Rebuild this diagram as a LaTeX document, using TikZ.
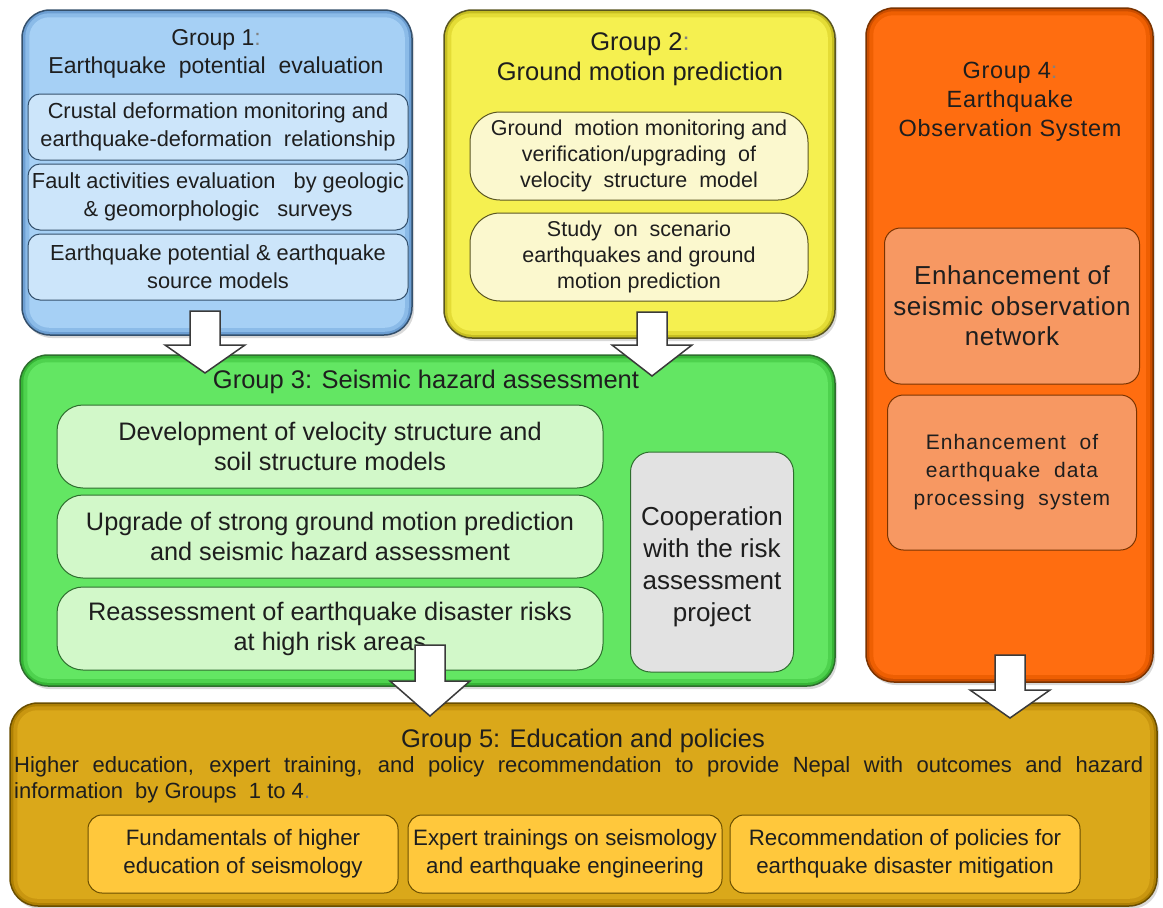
\documentclass[tikz,border=0pt]{standalone}
\usepackage{fontspec}
\setmainfont{Liberation Sans}
\usetikzlibrary{shadows,calc}
\definecolor{txt}{HTML}{1E1E1E}
\definecolor{gonefill}{HTML}{A6D0F5}
\definecolor{gonemid}{HTML}{8BBBE8}
\definecolor{goneedge}{HTML}{6C9ED2}
\definecolor{goneline}{HTML}{34506C}
\definecolor{goneinner}{HTML}{CCE5FA}
\definecolor{gtwofill}{HTML}{F5F050}
\definecolor{gtwomid}{HTML}{E4DC36}
\definecolor{gtwoedge}{HTML}{C6BE22}
\definecolor{gtwoline}{HTML}{5A5620}
\definecolor{gtwoinner}{HTML}{FBF8CE}
\definecolor{gthreefill}{HTML}{63E663}
\definecolor{gthreemid}{HTML}{4ED24E}
\definecolor{gthreeedge}{HTML}{36B536}
\definecolor{gthreeline}{HTML}{2E6E2E}
\definecolor{gthreeinner}{HTML}{D2F8C9}
\definecolor{grayinner}{HTML}{E2E2E2}
\definecolor{gfourfill}{HTML}{FF6D10}
\definecolor{gfourmid}{HTML}{EE5F02}
\definecolor{gfouredge}{HTML}{CC4E00}
\definecolor{gfourline}{HTML}{7A3300}
\definecolor{gfourinner}{HTML}{F79862}
\definecolor{gfivefill}{HTML}{DAA81A}
\definecolor{gfivemid}{HTML}{C99610}
\definecolor{gfiveedge}{HTML}{AE8004}
\definecolor{gfiveline}{HTML}{6A4E00}
\definecolor{gfiveinner}{HTML}{FFC83C}
\definecolor{arrline}{HTML}{3A3A3A}
\newcommand{\fsz}[2]{\fontsize{#1}{#2}\selectfont}
\newcommand{\blockarr}[4]{%
  \draw[blockarrow] (#1-15,#2) -- (#1+15,#2) -- (#1+15,#3) -- (#1+40,#3) -- (#1,#4) -- (#1-40,#3) -- (#1-15,#3) -- cycle;}
\newcommand{\bevel}[3]{% node, mid colour, main colour
  \fill[#2, rounded corners=24pt] ($(#1.north west)+(4,4)$) rectangle ($(#1.south east)+(-4,-4)$);
  \fill[#3, rounded corners=20pt] ($(#1.north west)+(8,8)$) rectangle ($(#1.south east)+(-8,-8)$);}
\begin{document}
\begin{tikzpicture}[x=1pt,y=-1pt,
  every node/.style={text=txt, align=center, inner sep=0pt},
  outerbox/.style={rectangle, rounded corners=28pt, line width=1.5pt, drop shadow={opacity=0.3, shadow xshift=2pt, shadow yshift=-3pt}},
  innerbox/.style={rectangle, rounded corners=#1, line width=1pt},
  innerbox/.default=12pt,
  blockarrow/.style={draw=arrline, fill=white, line width=1.5pt, line join=miter}]
\useasboundingbox (0,0) rectangle (1163,908);

% ---------- outer boxes ----------
\node[outerbox, draw=goneline, fill=goneedge, minimum width=390, minimum height=325] (g1) at (217,172.5) {};
\bevel{g1}{gonemid}{gonefill}
\node[outerbox, draw=gtwoline, fill=gtwoedge, minimum width=391, minimum height=328] (g2) at (639.5,174) {};
\bevel{g2}{gtwomid}{gtwofill}
\node[outerbox, draw=gfourline, fill=gfouredge, minimum width=287, minimum height=674] (g4) at (1009.5,345) {};
\bevel{g4}{gfourmid}{gfourfill}
\node[outerbox, draw=gthreeline, fill=gthreeedge, minimum width=815, minimum height=331] (g3) at (427.5,520.5) {};
\bevel{g3}{gthreemid}{gthreefill}
\node[outerbox, draw=gfiveline, fill=gfiveedge, minimum width=1147, minimum height=203] (g5) at (583.5,804.5) {};
\bevel{g5}{gfivemid}{gfivefill}

% ---------- Group 1 ----------
\node[font=\fsz{23}{28}] (g1t) at (216,54) {Group 1\textcolor{gray}{:}\\Earthquake\ \ potential\ \ evaluation};
\node[innerbox, draw=goneline, fill=goneinner, minimum width=380, minimum height=66, font=\fsz{21.8}{28}] (g1a) at (218,127) {Crustal deformation monitoring and\\earthquake-deformation\ \ relationship};
\node[innerbox, draw=goneline, fill=goneinner, minimum width=380, minimum height=66, font=\fsz{21.8}{28}] (g1b) at (218,197) {Fault activities evaluation\ \ \ by geologic\\\& geomorphologic\ \ \ surveys};
\node[innerbox, draw=goneline, fill=goneinner, minimum width=380, minimum height=66, font=\fsz{21.8}{28}] (g1c) at (218,267) {Earthquake potential \& earthquake\\source models};

% ---------- Group 2 ----------
\node[font=\fsz{25.5}{30}] (g2t) at (640,59) {Group 2\textcolor{gray}{:}\\Ground motion prediction};
\node[innerbox=30pt, draw=gtwoline, fill=gtwoinner, minimum width=338, minimum height=88, font=\fsz{21.5}{26}] (g2a) at (639,156) {Ground\ \ motion monitoring and\\verification/upgrading\ \ of\\velocity\ \ structure\ \ model};
\node[innerbox=30pt, draw=gtwoline, fill=gtwoinner, minimum width=338, minimum height=88, font=\fsz{21.5}{26}] (g2b) at (639,257) {Study\ \ on\ \ scenario\\earthquakes and ground\\motion prediction};

% ---------- Group 4 ----------
\node[font=\fsz{23.5}{29}\addfontfeature{LetterSpace=3}] (g4t) at (1010,102) {Group 4\textcolor{gray}{:}\\Earthquake\\Observation System};
\node[innerbox=16pt, draw=gfourline, fill=gfourinner, minimum width=255, minimum height=156, font=\fsz{26}{30.5}\addfontfeature{LetterSpace=2}] (g4a) at (1012,306) {Enhancement of\\seismic observation\\network};
\node[innerbox=16pt, draw=gfourline, fill=gfourinner, minimum width=249, minimum height=155, font=\fsz{21}{28}\addfontfeature{LetterSpace=5}] (g4b) at (1012,472.5) {Enhancement\ \ of\\earthquake\ \ data\\processing\ \ system};

% ---------- Group 3 ----------
\node[font=\fsz{25.5}{30}] (g3t) at (426,382) {Group 3: Seismic hazard assessment};
\node[innerbox=26pt, draw=gthreeline, fill=gthreeinner, minimum width=546, minimum height=83, font=\fsz{25.3}{30}] (g3a) at (330,446.5) {Development of velocity structure and\\soil structure models};
\node[innerbox=26pt, draw=gthreeline, fill=gthreeinner, minimum width=546, minimum height=83, font=\fsz{25.3}{30}] (g3b) at (330,536.5) {Upgrade of strong ground motion prediction\\and seismic hazard assessment};
\node[innerbox=26pt, draw=gthreeline, fill=gthreeinner, minimum width=546, minimum height=83, font=\fsz{25.3}{30}] (g3c) at (330,628.5) {Reassessment of earthquake disaster risks\\at high risk areas};
\node[innerbox=20pt, draw=gthreeline, fill=grayinner, minimum width=163, minimum height=220, font=\fsz{26}{32}] (g3d) at (712,562) {\\[-4pt]Cooperation\\with the risk\\assessment\\project};

% ---------- Group 5 ----------
\node[font=\fsz{25.5}{30}] (g5t) at (583,741) {Group 5: Education and policies};
\node[font=\fsz{22}{26}, text width=1129, align=justify, anchor=north west] (g5d) at (14,756) {Higher education, expert training, and policy recommendation to provide Nepal with outcomes and hazard\linebreak information\ \ by Groups\ \ 1 to 4\textcolor{gray}{.}};
\node[innerbox=14pt, draw=gfiveline, fill=gfiveinner, minimum width=310, minimum height=78, font=\fsz{22.3}{28}] (g5a) at (243,854) {Fundamentals of higher\\education of seismology};
\node[innerbox=14pt, draw=gfiveline, fill=gfiveinner, minimum width=314, minimum height=78, font=\fsz{22.3}{28}] (g5b) at (565,854) {Expert trainings on seismology\\and earthquake engineering};
\node[innerbox=14pt, draw=gfiveline, fill=gfiveinner, minimum width=350, minimum height=78, font=\fsz{22.3}{28}] (g5c) at (905,854) {Recommendation of policies for\\earthquake disaster mitigation};

% ---------- block arrows ----------
\blockarr{205}{311}{345}{373}
\blockarr{652}{312}{345}{376}
\blockarr{430}{645}{681}{716}
\blockarr{1010}{655}{690}{718}
\end{tikzpicture}
\end{document}
